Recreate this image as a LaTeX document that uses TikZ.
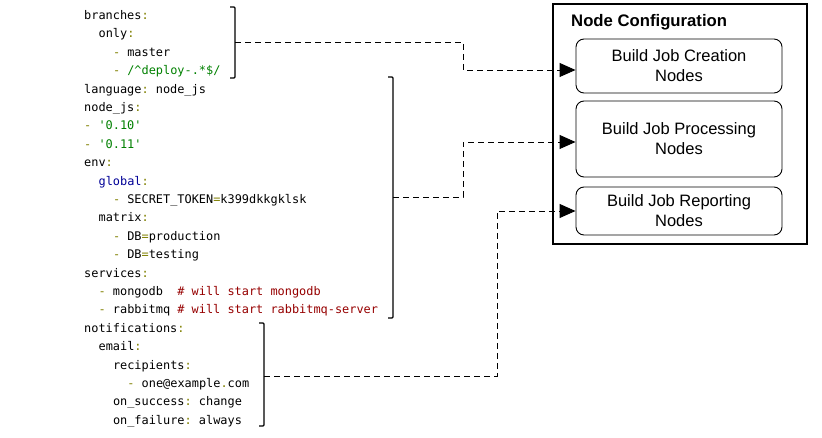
\documentclass[tikz,border=0pt]{standalone}
\usepackage{fontspec}
\setmainfont{Liberation Sans}
\setmonofont{DejaVu Sans Mono}
\usetikzlibrary{arrows.meta,calc}
\definecolor{ypunct}{RGB}{128,128,0}
\definecolor{ystr}{RGB}{0,128,0}
\definecolor{ykey}{RGB}{0,0,150}
\definecolor{ycom}{RGB}{150,0,0}
\newcommand{\yp}[1]{\textcolor{ypunct}{#1}}
\newcommand{\ys}[1]{\textcolor{ystr}{#1}}
\newcommand{\yk}[1]{\textcolor{ykey}{#1}}
\newcommand{\yc}[1]{\textcolor{ycom}{#1}}
\begin{document}
\begin{tikzpicture}[x=1pt,y=-1pt,
  code/.style={anchor=base west, inner sep=0pt, font=\ttfamily\fontsize{11.9}{14}\selectfont},
  brk/.style={line width=1.2pt, rounded corners=1pt},
  conn/.style={line width=0.9pt, dash pattern=on 6pt off 4pt, -{Triangle[length=16pt,width=14pt]}},
  jobbox/.style={draw, line width=0.9pt, rounded corners=8pt, align=center, inner sep=0pt,
    font=\fontsize{16.5}{20}\selectfont, minimum width=206pt},
  outerbox/.style={draw, line width=1.2pt, inner sep=0pt, minimum width=254pt, minimum height=240pt},
  titletext/.style={anchor=base west, inner sep=0pt, font=\bfseries\fontsize{16.7}{20}\selectfont}]
\useasboundingbox (0,0) rectangle (822,438);

% YAML code
\node[code] (l1)  at (84,19.5)    {branches\yp{:}};
\node[code] (l2)  at (98.4,37.9)  {only\yp{:}};
\node[code] (l3)  at (112.8,56.3) {\yp{-} master};
\node[code] (l4)  at (112.8,74.7) {\yp{-} \ys{/\string^deploy-.*\$/}};
\node[code] (l5)  at (84,93.1)    {language\yp{:} node\_js};
\node[code] (l6)  at (84,111.5)   {node\_js\yp{:}};
\node[code] (l7)  at (84,129.9)   {\yp{-} \ys{'0.10'}};
\node[code] (l8)  at (84,148.3)   {\yp{-} \ys{'0.11'}};
\node[code] (l9)  at (84,166.7)   {env\yp{:}};
\node[code] (l10) at (98.4,185.1) {\yk{global}\yp{:}};
\node[code] (l11) at (112.8,203.5){\yp{-} SECRET\_TOKEN\yp{=}k399dkkgklsk};
\node[code] (l12) at (98.4,221.9) {matrix\yp{:}};
\node[code] (l13) at (112.8,240.3){\yp{-} DB\yp{=}production};
\node[code] (l14) at (112.8,258.7){\yp{-} DB\yp{=}testing};
\node[code] (l15) at (84,277.1)   {services\yp{:}};
\node[code] (l16) at (98.4,295.5) {\yp{-} mongodb\ \ \yc{\# will start mongodb}};
\node[code] (l17) at (98.4,313.9) {\yp{-} rabbitmq \yc{\# will start rabbitmq-server}};
\node[code] (l18) at (84,332.3)   {notifications\yp{:}};
\node[code] (l19) at (98.4,350.7) {email\yp{:}};
\node[code] (l20) at (112.8,369.1){recipients\yp{:}};
\node[code] (l21) at (127.2,387.5){\yp{-} one@example\yp{.}com};
\node[code] (l22) at (112.8,405.9){on\_success\yp{:} change};
\node[code] (l23) at (112.8,424.3){on\_failure\yp{:} always};

% brackets
\draw[brk] (230,7) -- (235,7) -- (235,78) -- (230,78);
\draw[brk] (388,77) -- (393,77) -- (393,318) -- (388,318);
\draw[brk] (259,323) -- (264,323) -- (264,426) -- (259,426);
\coordinate (b1) at (235,42);
\coordinate (b2) at (393,197);
\coordinate (b3) at (264,376);

% configuration box
\node[outerbox] (cfg) at (680,124) {};
\node[titletext] (title) at (571,26.5) {Node Configuration};
\node[jobbox, minimum height=54pt] (box1) at (679,66)  {Build Job Creation\\Nodes};
\node[jobbox, minimum height=76pt] (box2) at (679,139) {Build Job Processing\\Nodes};
\node[jobbox, minimum height=48pt] (box3) at (679,211) {Build Job Reporting\\Nodes};

\coordinate (t1) at ([yshift=-4pt]box1.west);
\coordinate (t2) at ([yshift=-3pt]box2.west);
\coordinate (t3) at (box3.west);

% connectors
\draw[conn] (b1) -| (463,70) -- (t1);
\draw[conn] (b2) -| (463,142) -- (t2);
\draw[conn] (b3) -| (497,211) -- (t3);
\end{tikzpicture}
\end{document}
